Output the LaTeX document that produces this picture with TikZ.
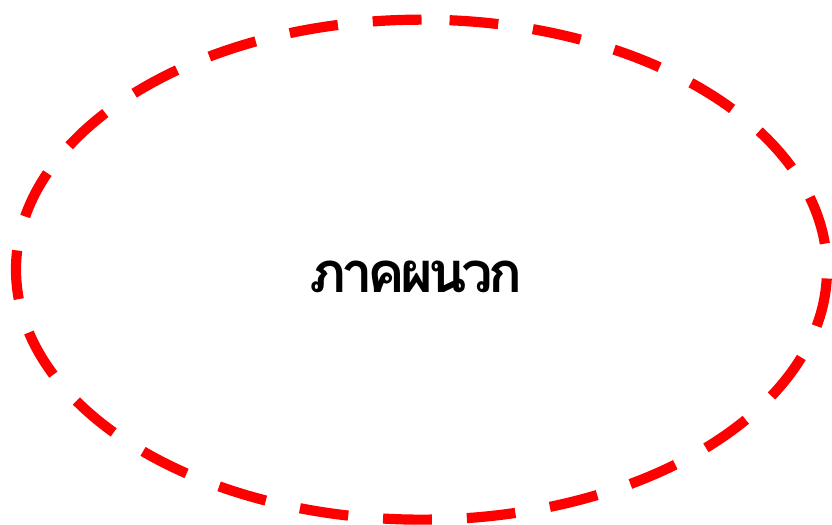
\documentclass[tikz,border=0pt]{standalone}
\usepackage{fontspec}
\newfontfamily\thaifont[Script=Thai]{Loma}
\newfontfamily\thaititle[Script=Thai, LetterSpace=-9]{Loma}
\usepackage{xcolor}
\definecolor{ringred}{HTML}{FF0000}
\usetikzlibrary{shapes.geometric, positioning}

\begin{document}
\begin{tikzpicture}[every node/.style={font=\thaifont},
    ringline/.style={draw=ringred, line width=5.8pt, dash pattern=on 27.8pt off 19.9pt}]

  \useasboundingbox (0,0) rectangle (16.64,10.48);

  % Dashed ring, drawn from the top going left
  \node[ellipse, minimum width=16.22cm, minimum height=10cm, inner sep=0pt] (ring) at (8.43,5.08) {};
  \draw[ringline] (ring.north) arc[start angle=90, delta angle=360, x radius=8.11cm, y radius=5cm];
  % Title
  \node[font=\thaititle\bfseries\fontsize{32}{38}\selectfont, below=-0.31cm of ring.center,
        xshift=-0.12cm] (appendix)
    {ภาคผนวก};
\end{tikzpicture}
\end{document}
